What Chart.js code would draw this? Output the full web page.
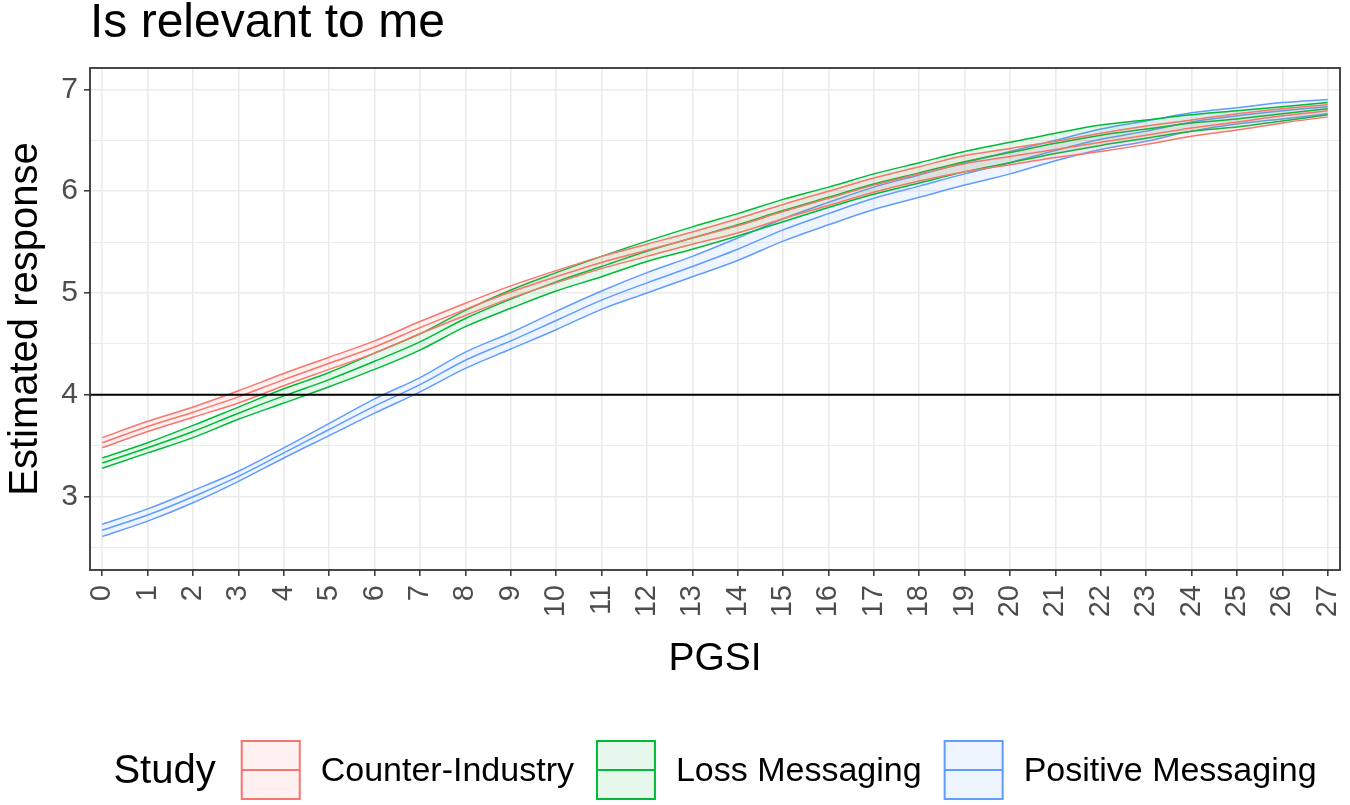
<!DOCTYPE html>
<html>
<head>
<meta charset="utf-8">
<title>Is relevant to me</title>
<script src="https://cdn.jsdelivr.net/npm/chart.js@4.4.1/dist/chart.umd.min.js"></script>
<style>
  html, body { margin: 0; padding: 0; background: #fff; }
  #wrap { width: 1350px; height: 805px; }
</style>
</head>
<body>
<div id="wrap"><canvas id="myChart" width="1350" height="805"></canvas></div>
<script>
// PGSI score on the x axis
const pgsi = [0, 1, 2, 3, 4, 5, 6, 7, 8, 9, 10, 11, 12, 13, 14, 15, 16, 17, 18, 19, 20, 21, 22, 23, 24, 25, 26, 27];
const yTicks = [2.5, 3, 3.5, 4, 4.5, 5, 5.5, 6, 6.5, 7];
const refLevel = 4;

// Counter-Industry
const counterMean = [3.53, 3.69, 3.83, 3.98, 4.15, 4.31, 4.47, 4.66, 4.84, 5.01, 5.16, 5.30, 5.42, 5.54, 5.66, 5.80, 5.93, 6.06, 6.17, 6.27, 6.34, 6.41, 6.48, 6.55, 6.62, 6.68, 6.74, 6.79];
const counterLow  = [3.48, 3.64, 3.78, 3.92, 4.09, 4.25, 4.41, 4.60, 4.78, 4.95, 5.10, 5.24, 5.36, 5.48, 5.59, 5.73, 5.86, 5.99, 6.10, 6.19, 6.26, 6.33, 6.39, 6.46, 6.54, 6.60, 6.67, 6.73];
const counterHigh = [3.58, 3.74, 3.88, 4.04, 4.21, 4.37, 4.53, 4.72, 4.90, 5.07, 5.22, 5.36, 5.48, 5.60, 5.73, 5.87, 6.00, 6.13, 6.24, 6.35, 6.42, 6.49, 6.57, 6.64, 6.70, 6.76, 6.81, 6.85];

// Loss Messaging
const lossMean = [3.33, 3.48, 3.64, 3.82, 3.99, 4.15, 4.33, 4.52, 4.75, 4.94, 5.11, 5.26, 5.41, 5.54, 5.67, 5.81, 5.94, 6.07, 6.18, 6.29, 6.38, 6.47, 6.55, 6.61, 6.67, 6.71, 6.76, 6.81];
const lossLow  = [3.28, 3.43, 3.58, 3.76, 3.92, 4.08, 4.25, 4.44, 4.67, 4.85, 5.02, 5.16, 5.31, 5.43, 5.56, 5.70, 5.84, 5.97, 6.08, 6.19, 6.28, 6.37, 6.45, 6.52, 6.59, 6.63, 6.69, 6.75];
const lossHigh = [3.38, 3.53, 3.70, 3.88, 4.06, 4.22, 4.41, 4.60, 4.83, 5.03, 5.20, 5.36, 5.51, 5.65, 5.78, 5.92, 6.04, 6.17, 6.28, 6.39, 6.48, 6.57, 6.65, 6.70, 6.75, 6.79, 6.83, 6.87];

// Positive Messaging
const positiveMean = [2.67, 2.82, 3.00, 3.20, 3.43, 3.66, 3.89, 4.10, 4.34, 4.53, 4.73, 4.93, 5.10, 5.26, 5.43, 5.62, 5.78, 5.93, 6.05, 6.17, 6.28, 6.40, 6.51, 6.59, 6.68, 6.74, 6.79, 6.83];
const positiveLow  = [2.61, 2.76, 2.94, 3.15, 3.38, 3.60, 3.82, 4.03, 4.26, 4.45, 4.64, 4.84, 5.00, 5.16, 5.32, 5.51, 5.67, 5.82, 5.94, 6.06, 6.17, 6.30, 6.41, 6.49, 6.59, 6.66, 6.71, 6.76];
const positiveHigh = [2.73, 2.88, 3.06, 3.25, 3.48, 3.72, 3.96, 4.17, 4.42, 4.61, 4.82, 5.02, 5.20, 5.36, 5.54, 5.73, 5.89, 6.04, 6.16, 6.28, 6.39, 6.50, 6.61, 6.69, 6.77, 6.82, 6.87, 6.90];

const studies = [
  { name: 'Counter-Industry',   color: '#F8766D', fill: 'rgba(248,118,109,0.10)', mean: counterMean,  low: counterLow,  high: counterHigh },
  { name: 'Loss Messaging',     color: '#00BA38', fill: 'rgba(0,186,56,0.10)',    mean: lossMean,     low: lossLow,     high: lossHigh },
  { name: 'Positive Messaging', color: '#619CFF', fill: 'rgba(97,156,255,0.10)',  mean: positiveMean, low: positiveLow, high: positiveHigh },
];

const FONT = "'Liberation Sans', Arial, sans-serif";
const toXY = arr => pgsi.map((x, i) => ({ x: x, y: arr[i] }));

const datasets = [];
studies.forEach(s => {
  const base = { borderColor: s.color, borderWidth: 1.5, pointRadius: 0, cubicInterpolationMode: 'monotone' };
  datasets.push(Object.assign({}, base, { label: s.name + ' low',  data: toXY(s.low),  fill: false }));
  datasets.push(Object.assign({}, base, { label: s.name + ' high', data: toXY(s.high), fill: '-1', backgroundColor: s.fill }));
  datasets.push(Object.assign({}, base, { label: s.name,           data: toXY(s.mean), fill: false }));
});

// reference line + panel border, drawn over the data like ggplot
const panelPlugin = {
  id: 'panel',
  afterDatasetsDraw(chart) {
    const { ctx, chartArea: a, scales } = chart;
    const y = scales.y.getPixelForValue(refLevel);
    ctx.save();
    ctx.strokeStyle = '#000';
    ctx.lineWidth = 2;
    ctx.beginPath();
    ctx.moveTo(a.left, y);
    ctx.lineTo(a.right, y);
    ctx.stroke();
    ctx.strokeStyle = '#333';
    ctx.lineWidth = 1.8;
    ctx.strokeRect(a.left, a.top, a.right - a.left, a.bottom - a.top);
    ctx.restore();
  }
};

// ggplot style legend at the bottom
const legendPlugin = {
  id: 'studyLegend',
  afterDraw(chart) {
    const { ctx, chartArea: a } = chart;
    const cy = 770, box = 60;
    ctx.save();
    ctx.textBaseline = 'middle';
    ctx.font = '40px ' + FONT;
    const titleW = ctx.measureText('Study').width;
    ctx.font = '34px ' + FONT;
    const widths = studies.map(s => ctx.measureText(s.name).width);
    let total = titleW + 25;
    widths.forEach(w => { total += box + 20 + w; });
    total += 22 * (studies.length - 1);
    let x = (a.left + a.right) / 2 - total / 2;

    ctx.fillStyle = '#000';
    ctx.font = '40px ' + FONT;
    ctx.fillText('Study', x, cy + 2);
    x += titleW + 25;

    ctx.font = '34px ' + FONT;
    studies.forEach((s, i) => {
      ctx.fillStyle = s.fill;
      ctx.fillRect(x, cy - box / 2, box, box);
      ctx.strokeStyle = s.color;
      ctx.lineWidth = 2;
      ctx.strokeRect(x + 1, cy - box / 2 + 1, box - 2, box - 2);
      ctx.beginPath();
      ctx.moveTo(x + 1, cy);
      ctx.lineTo(x + box - 1, cy);
      ctx.stroke();
      x += box + 20;
      ctx.fillStyle = '#000';
      ctx.fillText(s.name, x, cy + 2);
      x += widths[i] + 22;
    });
    ctx.restore();
  }
};

const isInt = v => Math.abs(v - Math.round(v)) < 1e-9;

const config = {
  type: 'line',
  data: { datasets: datasets },
  plugins: [panelPlugin, legendPlugin],
  options: {
    responsive: false,
    animation: false,
    devicePixelRatio: 1,
    layout: { padding: { left: 0, right: 10, top: 0, bottom: 110 } },
    plugins: {
      legend: { display: false },
      tooltip: { enabled: false },
      title: {
        display: true,
        text: 'Is relevant to me',
        align: 'start',
        fullSize: false,
        color: '#000',
        font: { family: FONT, size: 48, weight: 'normal', lineHeight: 1 },
        padding: { top: 0, bottom: 20 }
      }
    },
    scales: {
      x: {
        type: 'linear',
        min: -0.27,
        max: 27.27,
        afterBuildTicks: s => { s.ticks = pgsi.map(v => ({ value: v })); },
        afterFit: s => { s.height = 125; s.paddingLeft = 0; s.paddingRight = 0; },
        ticks: {
          autoSkip: false,
          minRotation: 90,
          maxRotation: 90,
          padding: 9,
          color: '#4D4D4D',
          font: { family: FONT, size: 29 }
        },
        grid: { color: '#EBEBEB', lineWidth: 1.6, tickColor: '#333', tickLength: 6, tickWidth: 1.5 },
        border: { display: false },
        title: {
          display: true,
          text: 'PGSI',
          color: '#000',
          font: { family: FONT, size: 39 },
          padding: { top: 4, bottom: 12 }
        }
      },
      y: {
        type: 'linear',
        min: 2.28,
        max: 7.21,
        afterBuildTicks: s => { s.ticks = yTicks.map(v => ({ value: v })); },
        afterFit: s => { s.width = 90; s.paddingTop = 0; s.paddingBottom = 0; },
        ticks: {
          padding: 6,
          color: '#4D4D4D',
          font: { family: FONT, size: 30 },
          callback: v => isInt(v) ? String(v) : ''
        },
        grid: {
          color: '#EBEBEB',
          lineWidth: c => (c.tick && isInt(c.tick.value)) ? 1.6 : 1.0,
          tickColor: c => (c.tick && isInt(c.tick.value)) ? '#333' : 'rgba(0,0,0,0)',
          tickLength: 6,
          tickWidth: 1.5
        },
        border: { display: false },
        title: {
          display: true,
          text: 'Estimated response',
          color: '#000',
          font: { family: FONT, size: 40 },
          padding: { top: 2, bottom: 4 }
        }
      }
    }
  }
};

const myChart = new Chart(document.getElementById('myChart'), config);
</script>
</body>
</html>
